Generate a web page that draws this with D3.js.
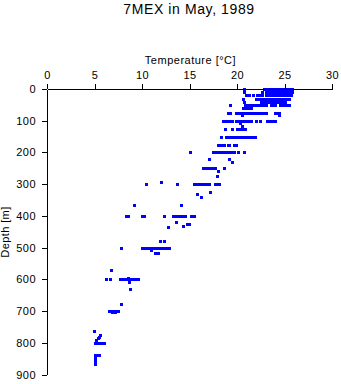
<!DOCTYPE html>
<html>
<head>
<meta charset="utf-8">
<script src="https://cdn.jsdelivr.net/npm/d3@7"></script>
<style>
  html, body { margin: 0; padding: 0; background: #fff; }
  svg { display: block; font-family: "Liberation Sans", Arial, Helvetica, sans-serif; }
</style>
</head>
<body>
<svg id="chart" width="341" height="384"></svg>
<script>
// ---- Data ----
const chartTitle = "7MEX in May, 1989";
const xLabel = "Temperature [°C]";
const yLabel = "Depth [m]";
const xTicks = [0, 5, 10, 15, 20, 25, 30];
const yTicks = [0, 100, 200, 300, 400, 500, 600, 700, 800, 900];

// sampled depths (m)
const depthLevels = [
  0, 10, 20, 30, 40, 50, 60, 75, 82, 100, 106, 116, 125, 150, 175, 200, 221, 230,
  250, 259, 274, 294, 300, 325, 330, 341, 366, 400, 420, 427, 433, 436, 480, 500,
  508, 517, 570, 595, 600, 608, 629, 678, 700, 704, 762, 774, 781, 786, 791, 800,
  840, 846, 852, 858, 864, 868
];
// temperatures (°C) observed at each depth level
const temperaturesAtLevel = [
  [20.7, 22.8, 23.2, 23.4, 23.6, 23.8, 24.0, 24.2, 24.4, 24.6, 24.8, 25.0, 25.2, 25.4, 25.6, 25.8],
  [20.7, 22.6, 23.0, 23.2, 23.4, 23.6, 23.8, 24.0, 24.2, 24.4, 24.6, 24.8, 25.0, 25.2, 25.4, 25.6, 25.8],
  [21.0, 21.3, 21.7, 22.1, 22.4, 22.6, 23.0, 23.2, 23.4, 23.6, 23.8, 24.0, 24.2, 24.4, 24.6, 24.8, 25.0, 25.2, 25.4, 25.7],
  [20.6, 22.0, 22.3, 22.6, 22.9, 23.1, 23.3, 23.5, 23.7, 23.9, 24.1, 24.3, 24.5, 24.7, 24.9, 25.1, 25.3, 25.5],
  [20.7, 22.5, 22.8, 23.1, 23.3, 23.5, 23.7, 23.9, 24.1, 24.3, 24.5, 24.7, 24.9, 25.1],
  [19.3, 20.8, 21.0, 21.2, 21.4, 21.6, 21.8, 22.0, 22.2, 22.4, 22.6, 22.8, 23.0, 23.6, 23.8, 24.0, 24.5, 24.7, 24.9, 25.3, 25.5],
  [20.6, 21.0, 21.2, 21.5],
  [19.1, 19.3, 19.9, 20.1, 20.3, 20.5, 20.7, 20.9, 21.1, 21.3, 21.5, 21.7, 21.9, 22.1, 22.3, 22.5, 22.7, 23.0, 24.0, 24.2, 24.4],
  [20.5, 24.4],
  [18.5, 18.7, 19.0, 19.3, 19.5, 19.9, 20.1, 20.3, 20.5, 20.7, 20.9, 21.1, 21.3, 21.5, 22.0, 22.4, 23.2, 23.4, 23.6, 23.8, 24.0],
  [20.3],
  [20.5],
  [18.7, 19.5, 20.0, 20.2, 20.4, 20.6, 20.8],
  [18.3, 18.8, 19.0, 19.2, 19.4, 19.6, 19.8, 20.0, 20.2, 20.4, 20.6, 20.8, 21.0, 21.2, 21.4, 21.6, 21.9],
  [18.0, 18.2, 18.4, 18.6, 19.0, 19.2, 19.7, 19.9],
  [15.05, 17.5, 17.7, 17.9, 18.1, 18.3, 18.5, 18.8, 19.2, 19.4, 19.7, 20.1, 20.7],
  [17.1, 19.2],
  [19.5],
  [16.4, 16.6, 16.8, 17.0, 17.2, 17.4, 17.7, 18.6],
  [18.0],
  [17.9],
  [12.0],
  [10.45, 13.7, 15.5, 15.7, 15.9, 16.1, 16.3, 16.5, 16.7, 16.9, 17.05, 17.7, 17.9, 18.1],
  [17.2],
  [15.8],
  [16.2],
  [9.15, 14.1],
  [8.35, 8.5, 10.0, 10.2, 12.3, 13.3, 13.5, 13.7, 13.9, 14.1, 14.3, 14.5, 15.2, 15.5],
  [13.6],
  [14.7, 14.9],
  [14.3],
  [12.7],
  [11.9, 12.35],
  [7.8, 10.05, 10.25, 10.45, 10.65, 10.85, 11.05, 11.25, 11.45, 11.65, 11.85, 12.05, 12.25, 12.45, 12.65, 12.8],
  [10.9],
  [11.4, 11.7],
  [6.7],
  [8.5],
  [6.2, 6.6, 7.7, 7.9, 8.1, 8.3, 8.5, 8.7, 8.9, 9.1, 9.3, 9.5, 9.6],
  [8.6],
  [8.7],
  [7.8],
  [6.5, 6.7, 6.9, 7.1, 7.3, 7.5],
  [6.8, 7.0, 7.2],
  [4.9],
  [5.6],
  [5.45],
  [5.35],
  [5.2],
  [5.1, 5.3, 5.5, 5.7, 5.9, 6.0],
  [5.0, 5.15, 5.3, 5.45],
  [5.0, 5.1],
  [5.0, 5.1],
  [5.0],
  [5.0],
  [5.0]
];

// ---- Build observations table ----
const observations = [];
depthLevels.forEach((dep, i) => {
  temperaturesAtLevel[i].forEach(t => observations.push({ depth: dep, temp: t }));
});

// ---- Chart ----
const svg = d3.select("#chart");
const x = d3.scaleLinear().domain([0, 30]).range([47, 332]);
const y = d3.scaleLinear().domain([0, 900]).range([89, 374.5]);

// points
svg.append("g")
  .attr("fill", "#0000ff")
  .attr("shape-rendering", "crispEdges")
  .selectAll("rect")
  .data(observations)
  .join("rect")
  .attr("x", d => Math.round(x(d.temp) - 1))
  .attr("y", d => Math.round(y(d.depth) - 1))
  .attr("width", 3)
  .attr("height", 3);

// top axis
const gx = svg.append("g")
  .attr("transform", "translate(0,89)")
  .attr("shape-rendering", "crispEdges")
  .call(d3.axisTop(x).tickValues(xTicks).tickSize(5).tickSizeOuter(0).tickPadding(5));

// left axis
const gy = svg.append("g")
  .attr("transform", "translate(47,0)")
  .attr("shape-rendering", "crispEdges")
  .call(d3.axisLeft(y).tickValues(yTicks).tickSize(5).tickSizeOuter(0).tickPadding(6));

[gx, gy].forEach(g => {
  g.selectAll("text")
    .attr("fill", "#000")
    .style("font-size", "11px")
    .style("letter-spacing", "0.5px")
    .style("font-family", "'Liberation Sans', Arial, sans-serif");
  g.selectAll("line, path").attr("stroke", "#000");
});

// title
svg.append("text")
  .attr("x", 189)
  .attr("y", 14)
  .attr("text-anchor", "middle")
  .style("font-size", "14px")
  .style("letter-spacing", "0.6px")
  .text(chartTitle);

// x label
svg.append("text")
  .attr("x", 190.5)
  .attr("y", 64)
  .attr("text-anchor", "middle")
  .style("font-size", "11px")
  .style("letter-spacing", "0.5px")
  .text(xLabel);

// y label
svg.append("text")
  .attr("transform", "translate(8.5,232) rotate(-90)")
  .attr("text-anchor", "middle")
  .style("font-size", "11px")
  .style("letter-spacing", "0.4px")
  .text(yLabel);
</script>
</body>
</html>
